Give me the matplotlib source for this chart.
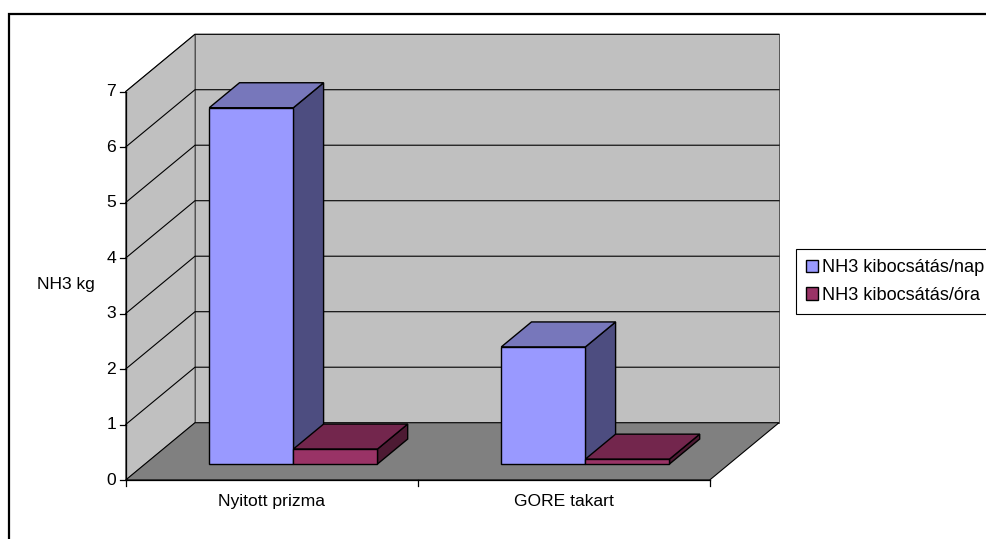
import matplotlib
matplotlib.use("Agg")
import matplotlib.pyplot as plt
from matplotlib.patches import Polygon, Patch, Rectangle

# ---- data -----------------------------------------------------------------
categories = ["Nyitott prizma", "GORE takart"]
series_names = ["NH3 kibocsátás/nap", "NH3 kibocsátás/óra"]
per_day = [6.42, 2.11]
per_hour = [0.27, 0.088]
y_ticks = [0, 1, 2, 3, 4, 5, 6, 7]
y_label = "NH3 kg"

# colours: front / top / side face for each series
face_cols = [("#9999FF", "#7777BB", "#4D4D80"),
             ("#993366", "#73264D", "#4D1A33")]
wall_col, floor_col = "#C0C0C0", "#808080"

plt.rcParams["font.family"] = ["Liberation Sans", "DejaVu Sans"]
FS = 12.6

# oblique projection: depth d in [0, 1] shifts right/up
DX, DY = 0.2373, 1.0324
VMAX = y_ticks[-1]
NCAT = len(categories)


def P(u, v, d):
    return (u + DX * d, v + DY * d)


fig = plt.figure(figsize=(9.86, 5.39), dpi=100)
ax = fig.add_axes([0, 0, 1, 1])
ax.set_xlim(-0.4305, 2.9462)
ax.set_ylim(-1.063, 8.649)
ax.axis("off")


def poly(pts, fc, ec="black", lw=1.0, z=1):
    ax.add_patch(Polygon([P(*p) for p in pts], closed=True, fc=fc, ec=ec,
                         lw=lw, zorder=z, joinstyle="miter"))


# ---- walls and floor -------------------------------------------------------
poly([(0, 0, 0), (0, VMAX, 0), (0, VMAX, 1), (0, 0, 1)], wall_col,
     ec="#404040", lw=0.6, z=1)
poly([(0, 0, 1), (0, VMAX, 1), (NCAT, VMAX, 1), (NCAT, 0, 1)], wall_col,
     ec="#404040", lw=0.6, z=1)
poly([(0, 0, 0), (NCAT, 0, 0), (NCAT, 0, 1), (0, 0, 1)], floor_col,
     ec="black", lw=0.8, z=2)

# gridlines on back wall and side wall
for t in y_ticks[1:]:
    xs, ys = zip(P(0, t, 0), P(0, t, 1), P(NCAT, t, 1))
    ax.plot(xs, ys, color="black", lw=0.8, zorder=1.5)

# value axis with ticks and labels
ax.plot([0, 0], [0, VMAX], color="black", lw=0.9, zorder=3)
for t in y_ticks:
    ax.plot([-0.021, 0], [t, t], color="black", lw=0.9, zorder=3)
    ax.text(-0.032, t, str(t), ha="right", va="center", fontsize=FS)
ax.text(-0.205, 3.53, y_label, ha="center", va="center", fontsize=FS)

# category axis
ax.plot([0, NCAT], [0, 0], color="black", lw=0.9, zorder=3)
for i in range(NCAT + 1):
    ax.plot([i, i], [0, -0.1], color="black", lw=0.9, zorder=3)
for i, c in enumerate(categories):
    ax.text(i + 0.5, -0.39, c, ha="center", va="center", fontsize=FS)

# ---- 3D bars ---------------------------------------------------------------
bar_w = 0.288
d0, d1 = 0.279, 0.715
for i in range(NCAT):
    left = i + 0.508 - bar_w
    for s, vals in enumerate([per_day, per_hour]):
        x0 = left + s * bar_w
        x1 = x0 + bar_w
        h = vals[i]
        front, top, side = face_cols[s]
        z = 4 + i * 2 + s * 0.5
        poly([(x1, 0, d0), (x1, h, d0), (x1, h, d1), (x1, 0, d1)], side, z=z)
        poly([(x0, h, d0), (x1, h, d0), (x1, h, d1), (x0, h, d1)], top, z=z)
        poly([(x0, 0, d0), (x1, 0, d0), (x1, h, d0), (x0, h, d0)], front, z=z)

# ---- legend (its frame runs off the right edge, as in the reference) -------
handles = [Patch(fc=face_cols[k][0], ec="black", lw=1.0, label=series_names[k])
           for k in range(2)]
leg = ax.legend(handles=handles, loc="upper left",
                bbox_to_anchor=(796 / 986, 1 - 249.3 / 539),
                bbox_transform=fig.transFigure, borderaxespad=0,
                fontsize=13.1, fancybox=False, framealpha=1, edgecolor="black",
                handlelength=0.68, handleheight=0.68, handletextpad=0.22,
                borderpad=0.55, labelspacing=0.58)
leg.get_frame().set_linewidth(0.8)

# outer chart border
fig.add_artist(Rectangle((8.7 / 986, -0.05), 1.1, 1 - 14 / 539 + 0.05,
                         transform=fig.transFigure, fill=False,
                         ec="black", lw=1.6))

fig.savefig("out.png", dpi=100)
